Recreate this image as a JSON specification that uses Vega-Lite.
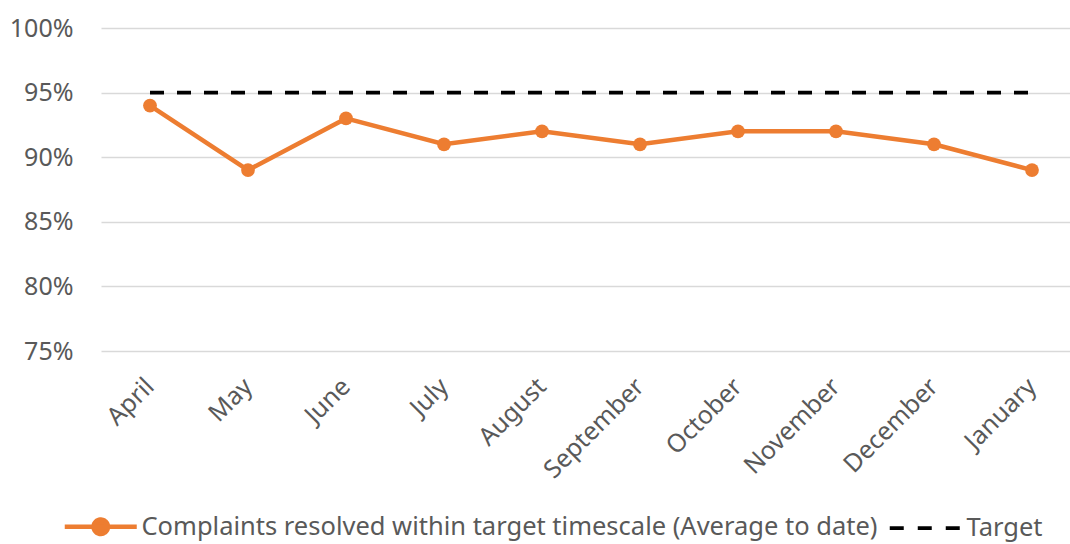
{
  "$schema": "https://vega.github.io/schema/vega-lite/v6.json",
  "width": 969,
  "height": 323,
  "autosize": {"type": "none"},
  "padding": {"left": 101, "top": 28, "right": 0, "bottom": 193},
  "config": {"view": {"stroke": null}, "font": "Noto Sans"},
  "data": {
    "values": [
      {"month": "April", "series": "Complaints resolved within target timescale (Average to date)", "value": 0.94},
      {"month": "May", "series": "Complaints resolved within target timescale (Average to date)", "value": 0.89},
      {"month": "June", "series": "Complaints resolved within target timescale (Average to date)", "value": 0.93},
      {"month": "July", "series": "Complaints resolved within target timescale (Average to date)", "value": 0.91},
      {"month": "August", "series": "Complaints resolved within target timescale (Average to date)", "value": 0.92},
      {"month": "September", "series": "Complaints resolved within target timescale (Average to date)", "value": 0.91},
      {"month": "October", "series": "Complaints resolved within target timescale (Average to date)", "value": 0.92},
      {"month": "November", "series": "Complaints resolved within target timescale (Average to date)", "value": 0.92},
      {"month": "December", "series": "Complaints resolved within target timescale (Average to date)", "value": 0.91},
      {"month": "January", "series": "Complaints resolved within target timescale (Average to date)", "value": 0.89},
      {"month": "April", "series": "Target", "value": 0.95},
      {"month": "May", "series": "Target", "value": 0.95},
      {"month": "June", "series": "Target", "value": 0.95},
      {"month": "July", "series": "Target", "value": 0.95},
      {"month": "August", "series": "Target", "value": 0.95},
      {"month": "September", "series": "Target", "value": 0.95},
      {"month": "October", "series": "Target", "value": 0.95},
      {"month": "November", "series": "Target", "value": 0.95},
      {"month": "December", "series": "Target", "value": 0.95},
      {"month": "January", "series": "Target", "value": 0.95}
    ]
  },
  "encoding": {
    "x": {
      "field": "month", "type": "nominal", "sort": null,
      "scale": {"type": "band", "paddingInner": 0, "paddingOuter": 0, "range": [0, 980]},
      "axis": {"title": null, "domain": false, "ticks": false, "grid": false, "labelAngle": -45, "labelAlign": "right", "labelBaseline": "middle", "labelFontSize": 25, "labelColor": "#595959", "labelFont": "Noto Sans", "labelPadding": 31, "labelOffset": 0}
    },
    "y": {
      "field": "value", "type": "quantitative",
      "scale": {"domain": [0.75, 1]},
      "axis": {"title": null, "domain": false, "ticks": false, "format": ".0%", "values": [0.75, 0.8, 0.85, 0.9, 0.95, 1], "labelFontSize": 25, "labelColor": "#595959", "labelFont": "Noto Sans", "labelPadding": 28, "gridColor": "#D9D9D9", "gridWidth": 1.5}
    },
    "color": {
      "field": "series", "type": "nominal",
      "scale": {"domain": ["Complaints resolved within target timescale (Average to date)", "Target"], "range": ["#ED7D31", "#000000"]},
      "legend": {
        "orient": "none", "legendX": -13, "legendY": 486, "direction": "horizontal", "title": null,
        "symbolSize": 5184, "symbolStrokeWidth": 4.5, "symbolType": "stroke",
        "labelFontSize": 25.5, "labelColor": "#595959", "labelFont": "Noto Sans", "labelOffset": 28, "labelLimit": 0, "columnPadding": 4,
        "encode": {
          "symbols": {
            "update": {
              "shape": {"signal": "datum.value === 'Target' ? 'M-1,0H1' : 'M-1,0H1M0.2,0A0.2,0.2,0,1,1,-0.2,0A0.2,0.2,0,1,1,0.2,0'"},
              "strokeDash": {"signal": "datum.value === 'Target' ? [14,14] : [1,0]"},
              "fill": {"signal": "datum.value === 'Target' ? 'transparent' : '#ED7D31'"},
              "fillOpacity": {"value": 1},
              "strokeWidth": {"signal": "datum.value === 'Target' ? 3.8 : 4.5"}
            }
          }
        }
      }
    }
  },
  "layer": [
    {"transform": [{"filter": "datum.series !== 'Target'"}], "mark": {"type": "line", "strokeWidth": 4.5}},
    {"transform": [{"filter": "datum.series !== 'Target'"}], "mark": {"type": "point", "filled": true, "size": 190, "opacity": 1}},
    {"transform": [{"filter": "datum.series === 'Target'"}], "mark": {"type": "line", "strokeWidth": 3.8, "strokeDash": [14, 13]}}
  ]
}
